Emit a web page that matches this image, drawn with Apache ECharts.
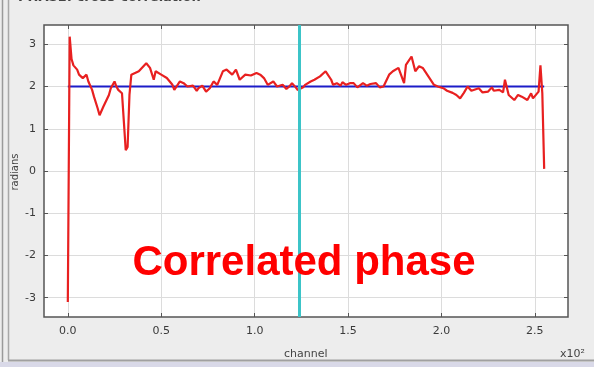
<!DOCTYPE html>
<html>
<head>
<meta charset="utf-8">
<script src="https://cdn.jsdelivr.net/npm/echarts@6/dist/echarts.min.js"></script>
<style>
  html, body { margin: 0; padding: 0; background: #ececec; }
  #chart { width: 594px; height: 367px; }
</style>
</head>
<body>
<div id="chart"></div>
<script>
// Cross-correlation phase per channel (radians)
const channels = [0, 1, 2, 3, 5, 6, 8, 10, 11, 13, 14, 16, 17, 19, 20, 22, 23, 25, 26, 27, 29, 30, 31, 32, 33, 34, 36, 38, 39, 42, 44, 46, 47, 50, 53, 56, 57, 60, 62, 64, 65, 67, 69, 70, 72, 74, 76, 78, 80, 83, 85, 88, 90, 92, 95, 98, 101, 103, 105, 107, 108, 110, 112, 113, 115, 117, 119, 120, 122, 123, 124, 126, 127, 130, 132, 135, 138, 139, 141, 142, 144, 146, 147, 149, 151, 153, 155, 156, 158, 160, 162, 165, 167, 169, 172, 174, 177, 180, 181, 184, 186, 188, 190, 193, 196, 198, 201, 203, 204, 206, 208, 210, 212, 214, 216, 217, 220, 222, 225, 227, 228, 231, 233, 234, 236, 237, 239, 241, 243, 244, 246, 248, 249, 250, 252, 253, 254, 255];
const phase = [-3.10, 3.18, 2.65, 2.50, 2.40, 2.28, 2.20, 2.28, 2.12, 1.92, 1.76, 1.48, 1.32, 1.52, 1.48, 1.80, 1.96, 2.12, 2.00, 1.92, 1.84, 1.17, 0.49, 0.57, 1.80, 2.28, 2.32, 2.36, 2.40, 2.55, 2.44, 2.16, 2.36, 2.28, 2.20, 2.04, 1.92, 2.12, 2.08, 2.00, 1.96, 2.02, 1.90, 1.96, 2.02, 1.88, 1.96, 2.12, 2.04, 2.36, 2.40, 2.28, 2.40, 2.16, 2.28, 2.26, 2.32, 2.28, 2.20, 2.04, 2.00, 2.12, 2.00, 1.96, 2.04, 1.94, 2.02, 2.08, 1.98, 1.92, 1.96, 1.98, 2.04, 2.12, 2.16, 2.24, 2.36, 2.36, 2.16, 2.04, 2.08, 2.02, 2.10, 2.04, 2.08, 2.08, 1.98, 1.94, 2.08, 2.02, 2.06, 2.08, 1.98, 2.00, 2.28, 2.36, 2.44, 2.08, 2.51, 2.71, 2.36, 2.48, 2.44, 2.24, 2.04, 2.00, 1.96, 1.90, 1.88, 1.85, 1.80, 1.72, 1.85, 2.00, 1.90, 1.92, 1.96, 1.86, 1.88, 1.98, 1.90, 1.92, 1.86, 2.16, 1.80, 1.76, 1.68, 1.80, 1.76, 1.72, 1.68, 1.84, 1.72, 1.76, 1.88, 2.50, 1.84, 0.05];

// Mean phase level across the band
const meanChannels = [0, 255];
const meanPhase = [2.0, 2.0];

// Cursor position (channel)
const cursorChannel = 124;

// Axis tick values
const xTicks = [0, 50, 100, 150, 200, 250];
const yTicks = [-3, -2, -1, 0, 1, 2, 3];

// Axis extents: 0..255 channels and -pi..pi, each padded by 5% of the span
const xMin = -12.75, xMax = 267.75;
const yMin = -3.456, yMax = 3.456;

const chart = echarts.init(document.getElementById('chart'));

const phaseData = channels.map((c, i) => [c, phase[i]]);
const meanData = meanChannels.map((c, i) => [c, meanPhase[i]]);

const tickFont = { fontFamily: 'DejaVu Sans', fontSize: 11, color: '#3a3a3a' };

function xAxisDef(pos, showLabels) {
  return {
    type: 'value', position: pos, min: xMin, max: xMax,
    axisLine: { show: false, onZero: false },
    axisTick: { show: true, inside: true, length: 4, customValues: xTicks, lineStyle: { color: '#555', width: 1 } },
    axisLabel: showLabels ? Object.assign({ show: true, customValues: xTicks, margin: 9,
      formatter: v => (v / 100).toFixed(1) }, tickFont) : { show: false },
    splitLine: { show: showLabels, lineStyle: { color: '#dcdcdc', width: 1 } }
  };
}
function yAxisDef(pos, showLabels) {
  return {
    type: 'value', position: pos, min: yMin, max: yMax,
    axisLine: { show: false, onZero: false },
    axisTick: { show: true, inside: true, length: 4, customValues: yTicks, lineStyle: { color: '#555', width: 1 } },
    axisLabel: showLabels ? Object.assign({ show: true, customValues: yTicks, margin: 8,
      formatter: v => String(v) }, tickFont) : { show: false },
    splitLine: { show: showLabels, lineStyle: { color: '#dcdcdc', width: 1 } }
  };
}

const option = {
  animation: false,
  backgroundColor: '#ededed',
  grid: {
    left: 44, right: 26, top: 25, bottom: 50,
    show: true, backgroundColor: '#ffffff', borderColor: '#555555', borderWidth: 1.5
  },
  xAxis: [xAxisDef('bottom', true), xAxisDef('top', false)],
  yAxis: [yAxisDef('left', true), yAxisDef('right', false)],
  graphic: [
    // group box frame
    { type: 'line', shape: { x1: 2.5, y1: 0, x2: 2.5, y2: 362 }, style: { stroke: '#9a9a9a', lineWidth: 1.5 }, silent: true },
    { type: 'line', shape: { x1: 8.5, y1: 0, x2: 8.5, y2: 360 }, style: { stroke: '#a8a8a8', lineWidth: 1.5 }, silent: true },
    { type: 'line', shape: { x1: 8, y1: 360.5, x2: 594, y2: 360.5 }, style: { stroke: '#a0a0a0', lineWidth: 2 }, silent: true },
    { type: 'rect', shape: { x: 0, y: 362, width: 594, height: 5 }, style: { fill: '#d9d9e8' }, silent: true },
    // panel title, clipped by the window top
    { type: 'text', left: 18, top: -9, style: { text: 'PHASE: cross-correlation', font: 'bold 13px "DejaVu Sans"', fill: '#444' }, silent: true },
    // axis names
    { type: 'text', left: 284, top: 349, style: { text: 'channel', font: '11px "DejaVu Sans"', fill: '#444' }, silent: true },
    { type: 'text', left: 560, top: 349, style: { text: 'x10²', font: '11px "DejaVu Sans"', fill: '#444' }, silent: true },
    { type: 'text', x: 15, y: 172, rotation: Math.PI / 2, style: { text: 'radians', font: '10px "DejaVu Sans"', fill: '#444', align: 'center', verticalAlign: 'middle' }, silent: true },
    // annotation
    { type: 'text', x: 304, y: 263, style: { text: 'Correlated phase', font: 'bold 42px "Liberation Sans"', fill: '#ff0000', align: 'center', verticalAlign: 'middle' }, z: 100, silent: true }
  ],
  series: [
    {
      type: 'line', data: meanData, showSymbol: false, silent: true,
      lineStyle: { color: '#1c1cc8', width: 2 }, z: 3
    },
    {
      type: 'line', data: phaseData, showSymbol: false, silent: true,
      lineStyle: { color: '#e82020', width: 2.2 }, z: 4,
      markLine: {
        silent: true, symbol: 'none', label: { show: false },
        lineStyle: { color: '#3cc4c8', width: 3, type: 'solid' },
        data: [{ xAxis: cursorChannel }]
      }
    }
  ]
};

chart.setOption(option);
</script>
</body>
</html>
